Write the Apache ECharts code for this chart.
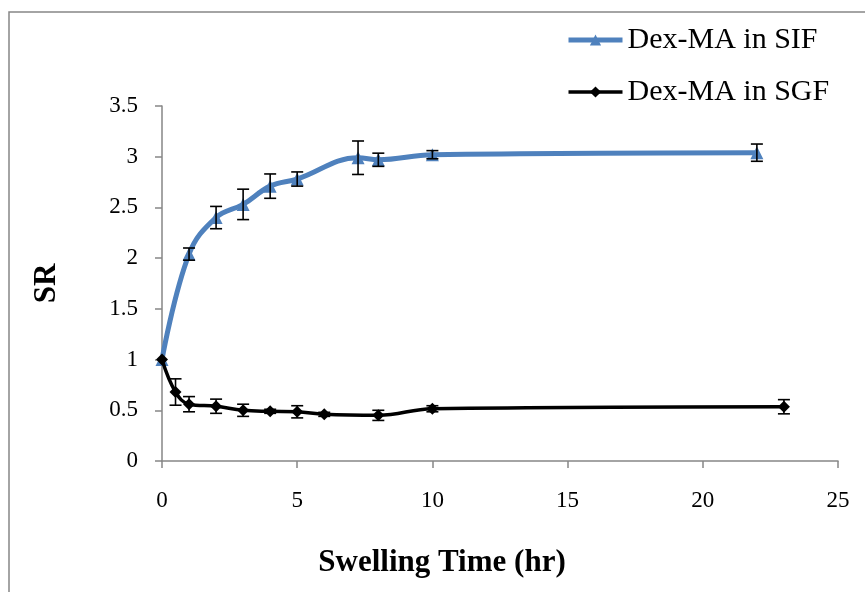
<!DOCTYPE html>
<html>
<head>
<meta charset="utf-8">
<script src="https://cdn.jsdelivr.net/npm/echarts@6/dist/echarts.min.js"></script>
<style>
html,body{margin:0;padding:0;background:#fff;}
#chart{width:865px;height:592px;}
</style>
</head>
<body>
<div id="chart"></div>
<script>
// Data
const sifX = [0, 1, 2, 3, 4, 5, 7.25, 8, 10, 22];
const sifY = [1, 2.04, 2.40, 2.53, 2.71, 2.78, 2.99, 2.97, 3.02, 3.04];
const sifErr = [0, 0.06, 0.11, 0.15, 0.12, 0.07, 0.165, 0.065, 0.04, 0.085];

const sgfX = [0, 0.5, 1, 2, 3, 4, 5, 6, 8, 10, 23];
const sgfY = [1, 0.68, 0.56, 0.54, 0.50, 0.49, 0.485, 0.46, 0.45, 0.515, 0.535];
const sgfErr = [0, 0.13, 0.075, 0.07, 0.06, 0.02, 0.06, 0.02, 0.05, 0.03, 0.07];

const seriesNames = ['Dex-MA in SIF', 'Dex-MA in SGF'];
const xTitle = 'Swelling Time (hr)';
const yTitle = 'SR';

const pairs = (xs, ys) => xs.map((x, i) => [x, ys[i]]);
const errData = (xs, ys, es) => xs.map((x, i) => [x, ys[i], es[i]]);

function renderErr(params, api) {
  const x = api.value(0), y = api.value(1), e = api.value(2);
  if (!e) return null;
  const lo = api.coord([x, y - e]);
  const hi = api.coord([x, y + e]);
  const w = 6;
  const style = { stroke: '#000', lineWidth: 1.6 };
  return {
    type: 'group',
    children: [
      { type: 'line', shape: { x1: lo[0], y1: lo[1], x2: hi[0], y2: hi[1] }, style },
      { type: 'line', shape: { x1: lo[0] - w, y1: lo[1], x2: lo[0] + w, y2: lo[1] }, style },
      { type: 'line', shape: { x1: hi[0] - w, y1: hi[1], x2: hi[0] + w, y2: hi[1] }, style }
    ]
  };
}

const font = '"Liberation Serif", "Times New Roman", serif';
const axisColor = '#868686';
const sifColor = '#4F81BD';

const chart = echarts.init(document.getElementById('chart'), null, { renderer: 'canvas' });
chart.setOption({
  animation: false,
  backgroundColor: '#fff',
  graphic: [{
    type: 'rect',
    shape: { x: 9, y: 12, width: 900, height: 650 },
    style: { fill: 'none', stroke: axisColor, lineWidth: 1.5 },
    silent: true, z: -1
  }],
  grid: { left: 162, right: 27, top: 106, bottom: 131, containLabel: false },
  legend: {
    data: [
      { name: seriesNames[0], lineStyle: { width: 5, color: sifColor } },
      { name: seriesNames[1], lineStyle: { width: 3.5, color: '#000' } }
    ],
    orient: 'vertical',
    left: 561,
    top: 20,
    padding: 5,
    itemGap: 22,
    itemWidth: 54,
    itemHeight: 14,
    textStyle: { fontFamily: font, fontSize: 30, color: '#000' }
  },
  xAxis: {
    type: 'value',
    min: 0, max: 25, interval: 5,
    name: xTitle,
    nameLocation: 'middle',
    nameGap: 86,
    nameTextStyle: { fontFamily: font, fontSize: 31, fontWeight: 'bold', color: '#000', padding: [0, 116, 0, 0] },
    axisLine: { lineStyle: { color: axisColor, width: 1.5 } },
    axisTick: { show: true, length: 7, lineStyle: { color: axisColor, width: 1.5 } },
    axisLabel: { fontFamily: font, fontSize: 23, color: '#000', margin: 28 },
    splitLine: { show: false }
  },
  yAxis: {
    type: 'value',
    min: 0, max: 3.5, interval: 0.5,
    name: yTitle,
    nameLocation: 'middle',
    nameGap: 100,
    nameTextStyle: { fontFamily: font, fontSize: 31, fontWeight: 'bold', color: '#000' },
    axisLine: { show: true, lineStyle: { color: axisColor, width: 1.5 } },
    axisTick: { show: true, length: 7, lineStyle: { color: axisColor, width: 1.5 } },
    axisLabel: { fontFamily: font, fontSize: 23, color: '#000', margin: 24 },
    splitLine: { show: false }
  },
  series: [
    {
      name: seriesNames[0],
      type: 'line',
      data: pairs(sifX, sifY),
      smooth: 0.4,
      symbol: 'triangle',
      symbolSize: 13,
      lineStyle: { color: sifColor, width: 5 },
      itemStyle: { color: sifColor },
      z: 2
    },
    {
      type: 'custom',
      renderItem: renderErr,
      data: errData(sifX, sifY, sifErr),
      z: 3,
      silent: true
    },
    {
      name: seriesNames[1],
      type: 'line',
      data: pairs(sgfX, sgfY),
      smooth: 0.4,
      symbol: 'diamond',
      symbolSize: 12,
      lineStyle: { color: '#000', width: 3.5 },
      itemStyle: { color: '#000' },
      z: 4
    },
    {
      type: 'custom',
      renderItem: renderErr,
      data: errData(sgfX, sgfY, sgfErr),
      z: 5,
      silent: true
    }
  ]
});
</script>
</body>
</html>
